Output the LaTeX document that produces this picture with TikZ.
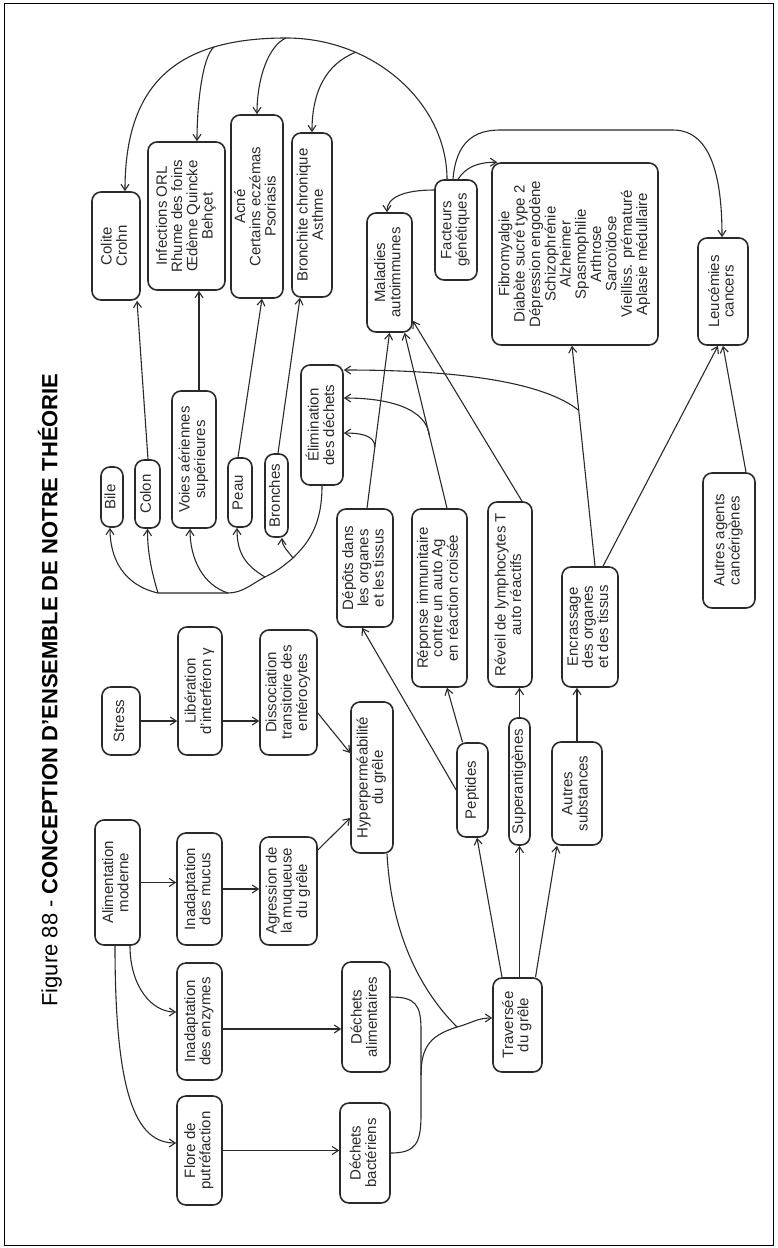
\documentclass[tikz,border=0pt]{standalone}
\usepackage{fontspec}
\setmainfont{Liberation Sans}
\usepackage{graphicx}
\usetikzlibrary{arrows.meta,calc}
\definecolor{ink}{HTML}{2A2A2A}
\newcommand{\rt}[1]{\rotatebox{90}{\begin{tabular}{@{}c@{}}#1\end{tabular}}}
\begin{document}
\begin{tikzpicture}[x=1pt,y=-1pt,
  box/.style={draw=ink, line width=1.6pt, rounded corners=9pt, inner sep=0pt, font={\fontsize{15}{14.5}\selectfont}, text=ink},
  arr/.style={draw=ink, line width=1.1pt, -{Straight Barb[length=6pt,width=8pt]}},
  ln/.style={draw=ink, line width=1.1pt}]
\useasboundingbox (0,0) rectangle (777,1248);
\draw[line width=1pt] (4,3) rectangle (773,1245);

\node[rotate=90, font={\fontsize{22}{26}\selectfont}] (title) at (50,690) {Figure 88 - \textbf{CONCEPTION D'ENSEMBLE DE NOTRE THÉORIE}};

% nodes
\node[box, minimum width=48pt, minimum height=108pt] (colite) at (116,246) {\rt{Colite\\Crohn}};
\node[box, minimum width=77pt, minimum height=148pt] (infect) at (186.5,216) {\rt{Infections ORL\\Rhume des foins\\Œdème Quincke\\Behçet}};
\node[box, minimum width=52pt, minimum height=183pt] (acne) at (257,206.5) {\rt{Acné\\Certains eczémas\\Psoriasis}};
\node[box, minimum width=40pt, minimum height=164pt] (bronchite) at (312,215) {\rt{Bronchite chronique\\Asthme}};
\node[box, minimum width=45pt, minimum height=119pt] (maladies) at (389.5,272.5) {\rt{Maladies\\autoimmunes}};
\node[box, minimum width=42pt, minimum height=100pt] (facteurs) at (456,230) {\rt{Facteurs\\génétiques}};
\node[box, minimum width=166pt, minimum height=182pt] (fibro) at (575,254) {\rt{Fibromyalgie\\Diabète sucré type 2\\Dépression engodène\\Schizophrénie\\Alzheimer\\Spasmophilie\\Arthrose\\Sarcoïdose\\Vieilliss. prématuré\\Aplasie médullaire}};
\node[box, minimum width=50pt, minimum height=107pt] (leuc) at (723,291.5) {\rt{Leucémies\\cancers}};
\node[box, minimum width=22pt, minimum height=60pt] (bile) at (112,497) {\rt{Bile}};
\node[box, minimum width=25pt, minimum height=68pt] (colon) at (147.5,494) {\rt{Colon}};
\node[box, minimum width=44pt, minimum height=137pt] (voies) at (194,459.5) {\rt{Voies aériennes\\supérieures}};
\node[box, minimum width=24pt, minimum height=69pt] (peau) at (240,492.5) {\rt{Peau}};
\node[box, minimum width=23pt, minimum height=83pt] (bronches) at (276.5,495.5) {\rt{Bronches}};
\node[box, minimum width=42pt, minimum height=120pt] (elim) at (322,425) {\rt{Élimination\\des déchets}};
\node[box, minimum width=56pt, minimum height=118pt] (depots) at (365,568) {\rt{Dépôts dans\\les organes\\et les tissus}};
\node[box, minimum width=55pt, minimum height=178pt] (reponse) at (439.5,598) {\rt{Réponse immunitaire\\contre un auto Ag\\en réaction croisée}};
\node[box, minimum width=44pt, minimum height=185pt] (reveil) at (510,594.5) {\rt{Réveil de lymphocytes T\\auto réactifs}};
\node[box, minimum width=56pt, minimum height=120pt] (encr) at (590,627) {\rt{Encrassage\\des organes\\et des tissus}};
\node[box, minimum width=52pt, minimum height=135pt] (agents) at (729,540.5) {\rt{Autres agents\\cancérigènes}};
\node[box, minimum width=38pt, minimum height=68pt] (stress) at (121,721) {\rt{Stress}};
\node[box, minimum width=44pt, minimum height=128pt] (liber) at (200,691) {\rt{Libération\\d'interféron γ}};
\node[box, minimum width=57pt, minimum height=125pt] (dissoc) at (288.5,692.5) {\rt{Dissociation\\transitoire des\\entérocytes}};
\node[box, minimum width=45pt, minimum height=125pt] (alim) at (117.5,882.5) {\rt{Alimentation\\moderne}};
\node[box, minimum width=45pt, minimum height=112pt] (mucus) at (199.5,889) {\rt{Inadaptation\\des mucus}};
\node[box, minimum width=57pt, minimum height=108pt] (agress) at (288.5,891) {\rt{Agression de\\la muqueuse\\du grêle}};
\node[box, minimum width=42pt, minimum height=151pt] (hyper) at (372,777.5) {\rt{Hyperperméabilité\\du grêle}};
\node[box, minimum width=31pt, minimum height=94pt] (peptides) at (472.5,790) {\rt{Peptides}};
\node[box, minimum width=21pt, minimum height=127pt] (superag) at (519.5,781.5) {\rt{Superantigènes}};
\node[box, minimum width=50pt, minimum height=103pt] (autsub) at (577,793.5) {\rt{Autres\\substances}};
\node[box, minimum width=45pt, minimum height=117pt] (enzymes) at (199.5,1021.5) {\rt{Inadaptation\\des enzymes}};
\node[box, minimum width=45pt, minimum height=109pt] (flore) at (199.5,1150.5) {\rt{Flore de\\putréfaction}};
\node[box, minimum width=48pt, minimum height=110pt] (dalim) at (366,1017) {\rt{Déchets\\alimentaires}};
\node[box, minimum width=50pt, minimum height=100pt] (dbact) at (365,1153) {\rt{Déchets\\bactériens}};
\node[box, minimum width=49pt, minimum height=94pt] (travers) at (517.5,1025) {\rt{Traversée\\du grêle}};

% left flow
\draw[arr] (alim.east) -- (alim.east -| mucus.west);
\draw[arr] (mucus.east) -- (mucus.east -| agress.west);
\draw[arr] (stress.east) -- (stress.east -| liber.west);
\draw[arr] (stress.east -| liber.east) -- (stress.east -| dissoc.west);
\draw[arr] ([yshift=-20.5pt]dissoc.east) -- ([yshift=24.5pt]hyper.west);
\draw[arr] ([yshift=41pt]agress.east) -- ([yshift=-40.5pt]hyper.west);
\draw[arr] ([xshift=12.5pt]alim.south) .. controls +(0,40) and +(-25,0) .. ([yshift=9.5pt]enzymes.west);
\draw[arr] ([xshift=-2.5pt]alim.south) .. controls +(0,150) and +(-40,0) .. ([yshift=7.5pt]flore.west);
\coordinate (e1) at ([yshift=-7.5pt]enzymes.east);
\draw[arr] (e1) -- (e1 -| dalim.west);
\draw[arr] (flore.east) -- (flore.east -| dbact.west);

% bracket and merge
\coordinate (b1) at (421,1030);
\coordinate (b2) at (421,1115);
\coordinate (bj) at (421,1075);
\coordinate (m) at (457,1027);
\draw[ln] ([yshift=20pt]dalim.east) .. controls +(25,0) and +(0,-25) .. (b1) -- (b2) .. controls +(0,28) and +(25,0) .. (dbact.east);
\draw[ln] (bj) .. controls +(0,-30) and +(-25,8) .. (m);
\draw[ln] ([xshift=15pt]hyper.south) .. controls +(5,90) and +(-30,-30) .. (m);
\draw[arr] (m) .. controls +(15,-4) and +(-15,0) .. ([yshift=7pt]travers.west);

% from Traversee
\draw[arr] ([xshift=-15.5pt]travers.north) -- ([xshift=4.5pt]peptides.south);
\draw[arr] (superag.south |- travers.north) -- (superag.south);
\draw[arr] ([xshift=18pt]travers.north) -- ([xshift=-20pt]autsub.south);
\draw[arr] (autsub.north) -- (autsub.north |- encr.south);
\draw[arr] (peptides.west) -- ([xshift=-3pt]depots.south);
\draw[arr] ([xshift=-10pt]peptides.north) -- ([xshift=7.5pt]reponse.south);
\draw[arr] (superag.north) -- (superag.north |- reveil.south);

% to Maladies
\coordinate (dA) at ([xshift=2pt]depots.north);
\coordinate (rA) at ([xshift=7.5pt]reponse.north);
\coordinate (mR) at ([xshift=15pt]maladies.south);
\coordinate (eA) at ([xshift=5pt]encr.north);
\coordinate (fS) at ([xshift=-3pt]fibro.south);
\draw[arr] (dA) -- (maladies.south);
\draw[arr] (rA) -- (mR);
\draw[arr] ([xshift=12pt]reveil.north) -- ([yshift=12pt]maladies.south east);
\draw[arr] (eA) -- (fS);
\draw[arr] ([xshift=13pt]encr.north) -- ([xshift=-5pt]leuc.south);
\draw[arr] ([xshift=17pt]agents.north) -- (leuc.south);

% to Elimination
\draw[arr] ($(dA)!0.35!(maladies.south)$) .. controls +(0,-12) and +(15,0) .. ([yshift=-8pt]elim.east);
\draw[arr] ($(rA)!0.41!(mR)$) .. controls +(-3,-28) and +(45,0) .. ([yshift=27pt]elim.east);
\draw[arr] ($(eA)!0.707!(fS)$) .. controls +(-25,-20) and +(150,0) .. ([yshift=55pt]elim.east);

% Elimination trunk
\coordinate (p3) at (293,558);
\coordinate (p2) at (265,577);
\coordinate (p1) at (228,593);
\coordinate (p0) at (158,593);
\draw[ln] (elim.south) .. controls +(0,40) and +(15,-15) .. (p3) .. controls +(-12,10) and +(12,-6) .. (p2) .. controls +(-12,6) and +(15,0) .. (p1) -- (p0);
\draw[arr] (p3) .. controls +(-6,-8) and +(0,8) .. ([xshift=5.5pt]bronches.south);
\draw[arr] (p2) .. controls +(-20,-12) and +(0,25) .. ([xshift=-3pt]peau.south);
\draw[arr] (p1) .. controls +(-25,-8) and +(0,30) .. ([xshift=-4pt]voies.south);
\draw[arr] (p0) .. controls +(-6,-20) and +(0,25) .. (colon.south);
\draw[arr] (p0) .. controls +(-35,-8) and +(0,30) .. ([xshift=-2pt]bile.south);

% organs to diseases
\draw[arr] ([xshift=0.5pt]colon.north) -- ([xshift=21pt]colite.south);
\coordinate (v1) at ([xshift=5pt]voies.north);
\draw[arr] (v1) -- (v1 |- infect.south);
\draw[arr] ([xshift=-2pt]peau.north) -- ([xshift=5pt]acne.south);
\draw[arr] ([xshift=1.5pt]bronches.north) -- ([xshift=-12pt]bronchite.south);

% Facteurs genetiques
\coordinate (archtop) at (286,38);
\draw[arr] ([xshift=-9pt]facteurs.north) .. controls (447,104) and (375,38) .. coordinate[pos=0.72] (brB) (archtop) .. controls (175,38) and (125,85) .. coordinate[pos=0.25] (brI) ([xshift=9pt]colite.north);
\draw[arr] (brI) .. controls +(-12,10) and +(0,-35) .. ([xshift=10.5pt]infect.north);
\draw[arr] (archtop) .. controls +(-18,8) and +(0,-35) .. (acne.north);
\draw[arr] (brB) .. controls +(-30,12) and +(0,-40) .. (bronchite.north);
\draw[arr] ([yshift=40pt]facteurs.west) .. controls +(-30,0) and +(0,-15) .. ([xshift=-2.5pt]maladies.north);
\draw[arr] ([xshift=2pt]facteurs.north) .. controls +(8,-12) and +(-20,0) .. ([xshift=6pt]fibro.north west);
\coordinate (lk1) at (500,130);
\coordinate (lk2) at (673,130);
\draw[arr] ([xshift=-3pt]facteurs.north) .. controls +(3,-38) and +(-25,0) .. (lk1) -- (lk2) .. controls +(40,0) and +(0,-55) .. ([xshift=-1pt]leuc.north);
\end{tikzpicture}
\end{document}
